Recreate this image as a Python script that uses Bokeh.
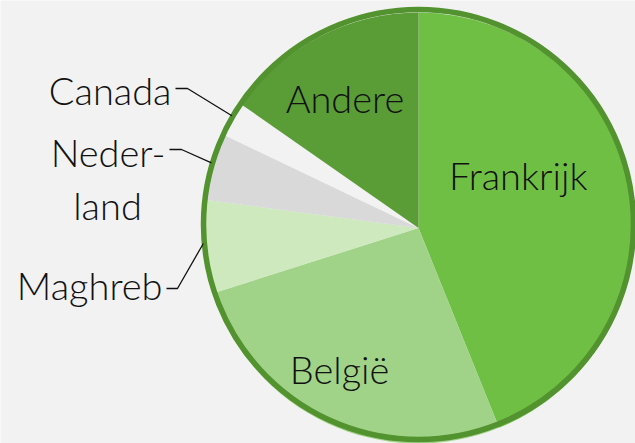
import math
from bokeh.plotting import figure
from bokeh.models import Range1d
from bokeh.core.properties import value
from bokeh.embed import file_html
from bokeh.resources import INLINE

# ---- data ----
categories = ["Frankrijk", "België", "Maghreb", "Nederland", "Canada", "Andere"]
shares = [43.9, 26.2, 7.0, 5.0, 2.6, 15.3]
label_texts = ["Frankrijk", "België", "Maghreb", "Neder-\nland", "Canada", "Andere"]

# ---- styles / layout ----
colors = ["#70bf45", "#a0d387", "#cde9bd", "#d9d9d9", "#f2f2f2", "#5a9d36"]
W, H = 635, 443
BG = "#f2f2f2"
CX, CY, R = 418, 443 - 227.5, 215.5
RING_CY, RING_R = 443 - 224, 215
FONT = "Lato Light, Lato"
FS = "38px"

p = figure(width=W, height=H, x_range=Range1d(0, W), y_range=Range1d(0, H),
           output_backend="svg", toolbar_location=None, min_border=0)
p.axis.visible = False
p.grid.visible = False
p.outline_line_color = None
p.background_fill_color = BG
p.border_fill_color = BG

total = sum(shares)
starts, ends, mids = [], [], []
acc = 0.0
for v in shares:
    a0 = math.pi / 2 - acc / total * 2 * math.pi
    acc += v
    a1 = math.pi / 2 - acc / total * 2 * math.pi
    starts.append(a0)
    ends.append(a1)
    mids.append((a0 + a1) / 2)

# slices
p.wedge(x=CX, y=CY, radius=R, start_angle=starts, end_angle=ends,
        direction="clock", fill_color=colors, line_color=None)
# outline ring (slightly raised, like the reference)
p.circle(x=CX, y=RING_CY, radius=RING_R, fill_color=None,
         line_color="#52922f", line_width=5.5)

# inside labels: (radius fraction, angle offset deg)
inside = {0: (0.53, 17), 1: (0.76, -4), 5: (0.70, 2)}
for i, (rf, off) in inside.items():
    a = mids[i] + math.radians(off)
    x = CX + 213 * rf * math.cos(a)
    y = CY + 213 * rf * math.sin(a)
    p.text(x=[x], y=[y], text=[label_texts[i]], text_font=value(FONT),
           text_font_size=FS, text_align="center", text_baseline="middle",
           text_color="#111111")

# outside labels with leader lines: (text right x, text baseline y px, elbow x, elbow y px)
outside = {
    4: (171, 89, 187, 88),
    3: (165, 151, 181, 149),
    2: (162, 284, 177, 288),
}
for i, (tx, ty, ex, ey) in outside.items():
    a = mids[i]
    px = CX + (RING_R + 1) * math.cos(a)
    py = RING_CY + (RING_R + 1) * math.sin(a)
    p.line(x=[tx + 4, ex, px], y=[H - ey, H - ey, py], line_color="#111111", line_width=1.3)
    lines = label_texts[i].split("\n")
    for k, ln in enumerate(lines):
        if k == 0:
            p.text(x=[tx], y=[H - ty], text=[ln], text_font=value(FONT), text_font_size=FS,
                   text_align="right", text_baseline="alphabetic", text_color="#111111")
        else:
            p.text(x=[tx - 58], y=[H - ty - 53 * k], text=[ln], text_font=value(FONT),
                   text_font_size=FS, text_align="center", text_baseline="alphabetic",
                   text_color="#111111")

open("out.html", "w").write(file_html(p, INLINE))
